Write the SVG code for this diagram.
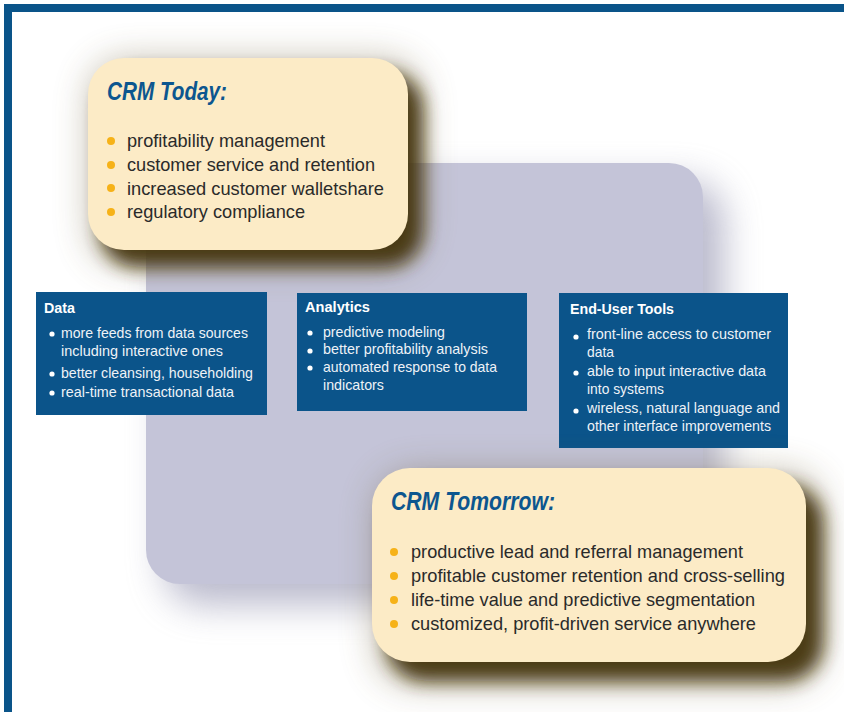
<svg xmlns="http://www.w3.org/2000/svg" width="844" height="712" viewBox="0 0 844 712">
  <defs>
    <filter id="softShadow" x="-30%" y="-30%" width="160%" height="160%">
      <feGaussianBlur stdDeviation="18"/>
    </filter>
    <filter id="cardShadow" x="-30%" y="-30%" width="160%" height="160%">
      <feGaussianBlur stdDeviation="9"/>
    </filter>
    <filter id="cardHalo" x="-40%" y="-40%" width="180%" height="180%">
      <feGaussianBlur stdDeviation="18"/>
    </filter>
    <style>
      .frame { fill: #0a5489; }
      .panel { fill: #c4c4d8; }
      .panelShadow { fill: #8c8cab; opacity: 0.6; }
      .card { fill: #fcebc6; }
      .cardShadow { fill: #453508; opacity: 0.95; }
      .cardHalo { fill: #6b5a30; opacity: 0.4; }
      .box { fill: #0b548a; }
      .cardTitle { font-family: "Liberation Sans", Arial, sans-serif; font-weight: bold; font-style: italic; font-size: 25px; fill: #0c568f; }
      .cardItem { font-family: "Liberation Sans", Arial, sans-serif; font-size: 19px; fill: #2a2a2a; }
      .dot { fill: #f6b218; }
      .boxTitle { font-family: "Liberation Sans", Arial, sans-serif; font-weight: bold; font-size: 15.5px; fill: #ffffff; }
      .boxItem { font-family: "Liberation Sans", Arial, sans-serif; font-size: 14.5px; fill: #eef2f7; }
      .wdot { fill: #ffffff; }
    </style>
  </defs>

  <rect x="0" y="0" width="844" height="712" fill="#ffffff"/>

  <!-- outer frame: top and left rules -->
  <g id="frame">
    <rect class="frame" x="4" y="4" width="840" height="8"/>
    <rect class="frame" x="4" y="4" width="8" height="708"/>
  </g>

  <!-- large lavender backdrop panel -->
  <g id="backdrop">
    <rect class="panelShadow" x="164" y="181" width="560" height="424" rx="38" filter="url(#softShadow)"/>
    <rect class="panel" x="146" y="163" width="557" height="421" rx="34"/>
  </g>

  <!-- CRM Today card -->
  <g id="crm-today">
    <rect class="cardHalo" x="90" y="60" width="330" height="204" rx="36" filter="url(#cardHalo)"/>
    <rect class="cardShadow" x="101" y="73" width="322" height="194" rx="36" filter="url(#cardShadow)"/>
    <rect class="card" x="88" y="58" width="320" height="192" rx="36"/>
    <text class="cardTitle" x="107" y="100" textLength="120" lengthAdjust="spacingAndGlyphs">CRM Today:</text>
    <circle class="dot" cx="111" cy="141" r="4"/>
    <circle class="dot" cx="111" cy="165" r="4"/>
    <circle class="dot" cx="111" cy="188" r="4"/>
    <circle class="dot" cx="111" cy="212" r="4"/>
    <text class="cardItem" x="127" y="147" textLength="198" lengthAdjust="spacingAndGlyphs">profitability management</text>
    <text class="cardItem" x="127" y="171" textLength="248" lengthAdjust="spacingAndGlyphs">customer service and retention</text>
    <text class="cardItem" x="127" y="195" textLength="257" lengthAdjust="spacingAndGlyphs">increased customer walletshare</text>
    <text class="cardItem" x="127" y="218" textLength="178" lengthAdjust="spacingAndGlyphs">regulatory compliance</text>
  </g>

  <!-- Data box -->
  <g id="data">
    <rect class="box" x="36" y="292" width="231" height="123"/>
    <text class="boxTitle" x="44" y="313" textLength="31" lengthAdjust="spacingAndGlyphs">Data</text>
    <circle class="wdot" cx="52" cy="334" r="2.6"/>
    <circle class="wdot" cx="52" cy="374" r="2.6"/>
    <circle class="wdot" cx="52" cy="393" r="2.6"/>
    <text class="boxItem" x="61" y="338" textLength="187" lengthAdjust="spacingAndGlyphs">more feeds from data sources</text>
    <text class="boxItem" x="61" y="356" textLength="162" lengthAdjust="spacingAndGlyphs">including interactive ones</text>
    <text class="boxItem" x="61" y="378" textLength="192" lengthAdjust="spacingAndGlyphs">better cleansing, householding</text>
    <text class="boxItem" x="61" y="397" textLength="173" lengthAdjust="spacingAndGlyphs">real-time transactional data</text>
  </g>

  <!-- Analytics box -->
  <g id="analytics">
    <rect class="box" x="297" y="293" width="230" height="118"/>
    <text class="boxTitle" x="305" y="312" textLength="65" lengthAdjust="spacingAndGlyphs">Analytics</text>
    <circle class="wdot" cx="310" cy="333" r="2.6"/>
    <circle class="wdot" cx="310" cy="351" r="2.6"/>
    <circle class="wdot" cx="310" cy="368" r="2.6"/>
    <text class="boxItem" x="323" y="337" textLength="122" lengthAdjust="spacingAndGlyphs">predictive modeling</text>
    <text class="boxItem" x="323" y="354" textLength="165" lengthAdjust="spacingAndGlyphs">better profitability analysis</text>
    <text class="boxItem" x="323" y="372" textLength="174" lengthAdjust="spacingAndGlyphs">automated response to data</text>
    <text class="boxItem" x="323" y="390" textLength="61" lengthAdjust="spacingAndGlyphs">indicators</text>
  </g>

  <!-- End-User Tools box -->
  <g id="end-user-tools">
    <rect class="box" x="559" y="293" width="229" height="155"/>
    <text class="boxTitle" x="570" y="314" textLength="104" lengthAdjust="spacingAndGlyphs">End-User Tools</text>
    <circle class="wdot" cx="576" cy="337" r="2.6"/>
    <circle class="wdot" cx="576" cy="373" r="2.6"/>
    <circle class="wdot" cx="576" cy="411" r="2.6"/>
    <text class="boxItem" x="587" y="339" textLength="184" lengthAdjust="spacingAndGlyphs">front-line access to customer</text>
    <text class="boxItem" x="587" y="357" textLength="27" lengthAdjust="spacingAndGlyphs">data</text>
    <text class="boxItem" x="587" y="376" textLength="179" lengthAdjust="spacingAndGlyphs">able to input interactive data</text>
    <text class="boxItem" x="587" y="394" textLength="77" lengthAdjust="spacingAndGlyphs">into systems</text>
    <text class="boxItem" x="587" y="413" textLength="193" lengthAdjust="spacingAndGlyphs">wireless, natural language and</text>
    <text class="boxItem" x="587" y="431" textLength="184" lengthAdjust="spacingAndGlyphs">other interface improvements</text>
  </g>

  <!-- CRM Tomorrow card -->
  <g id="crm-tomorrow">
    <rect class="cardHalo" x="376" y="472" width="446" height="212" rx="38" filter="url(#cardHalo)"/>
    <rect class="cardShadow" x="387" y="485" width="436" height="196" rx="38" filter="url(#cardShadow)"/>
    <rect class="card" x="372" y="468" width="434" height="194" rx="38"/>
    <text class="cardTitle" x="391" y="510" textLength="164" lengthAdjust="spacingAndGlyphs">CRM Tomorrow:</text>
    <circle class="dot" cx="394" cy="552" r="4"/>
    <circle class="dot" cx="394" cy="576" r="4"/>
    <circle class="dot" cx="394" cy="600" r="4"/>
    <circle class="dot" cx="394" cy="624" r="4"/>
    <text class="cardItem" x="411" y="558" textLength="332" lengthAdjust="spacingAndGlyphs">productive lead and referral management</text>
    <text class="cardItem" x="411" y="582" textLength="374" lengthAdjust="spacingAndGlyphs">profitable customer retention and cross-selling</text>
    <text class="cardItem" x="411" y="606" textLength="344" lengthAdjust="spacingAndGlyphs">life-time value and predictive segmentation</text>
    <text class="cardItem" x="411" y="630" textLength="345" lengthAdjust="spacingAndGlyphs">customized, profit-driven service anywhere</text>
  </g>
</svg>
